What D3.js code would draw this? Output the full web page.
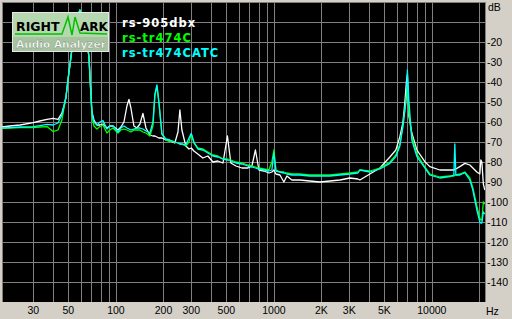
<!DOCTYPE html>
<html lang="en">
<head>
<meta charset="utf-8">
<title>RMAA spectrum</title>
<script src="https://d3js.org/d3.v7.min.js"></script>
<style>
  body { margin: 0; background: #d4d0c8; }
  svg { display: block; }
</style>
</head>
<body>
<script>
// frequencies (Hz) shared by the three curves
var freq = [19, 21.3, 24.7, 30, 33, 36.6, 40, 43, 45.5, 46.9, 48.3, 49.7, 51.9, 54.2, 56.7, 59.2, 61.8, 64.6, 67.5, 69,
  70.5, 72.6, 75.8, 79.2, 82.8, 87.7, 91.6, 95.7, 103, 107.5, 112.4, 117.4, 120.9, 124.4, 130, 135.8, 141.9, 148.2, 154.9, 164,
  171.5, 176.5, 181.8, 187, 195.5, 207, 219.7, 236, 247, 254, 261.6, 277, 290, 300, 311.6, 330, 355, 382, 411, 442,
  476, 508, 534, 575, 627, 685, 726, 764, 804, 865, 930, 971, 1000, 1030, 1092, 1157, 1209, 1300, 1460, 1689,
  1955, 2262, 2617, 3027, 3400, 3503, 4052, 4688, 5424, 5918, 6274, 6554, 6750, 6898, 7000, 7150, 7470, 8040, 9030, 9710,
  11230, 13000, 13780, 13980, 14190, 15040, 16180, 17400, 18180, 19270, 20130, 20420, 20730, 21180, 21650];

// rs-905dbx (white)
var dbWhite = [-62.5, -62, -61.5, -60.3, -59.5, -58.7, -58.2, -58.7, -55.5, -52, -47.5, -39, -27.5, -16, -8, -4, -8, -16, -27.5, -42,
  -55, -59, -61.5, -61.5, -61, -63, -62, -62, -64, -62.5, -60, -52, -48.7, -53, -62, -63, -61, -55.7, -63, -66.5,
  -67, -67, -67.5, -68, -68, -69, -69.5, -70.5, -65, -54, -64, -72, -73.5, -73, -74.5, -76, -78, -77, -80, -79.5,
  -80.5, -67, -80.5, -82, -83, -83, -82, -74, -84, -84.5, -85.5, -85, -84, -86, -86.5, -90, -87, -89, -89, -89.5,
  -90, -89.5, -89, -88, -88.5, -89, -86, -83, -77.5, -74, -67.3, -60.5, -50, -40, -36, -57, -65.5, -74, -79.8, -82.3,
  -84, -84, -84, -83.5, -83.5, -82.3, -80.7, -81.5, -83, -85, -86, -79, -80, -91, -94];

// rs-tr474C (green)
var dbGreen = [-63.2, -63, -62.8, -62.8, -62.5, -62.3, -64.8, -64, -59, -53, -47.5, -39, -27.5, -16, -8, -4, -8, -16, -27.5, -42,
  -57, -62, -63.5, -62.3, -61.5, -65.5, -64, -63, -65.5, -64, -63.5, -64, -64.5, -65, -64, -64, -64, -65, -65.5, -67,
  -62, -47, -42, -50, -66, -69, -69.5, -70, -70.5, -71, -71, -72, -70, -66, -70.5, -73, -73.5, -75, -76.5, -77,
  -78.5, -78.5, -79, -80, -80.5, -81.5, -82, -82.5, -83, -83.5, -84, -80, -74, -84, -85, -85, -85.5, -86, -86, -86.5,
  -86.5, -86.5, -86, -85.5, -85, -84, -84.5, -83, -80, -76.5, -71, -62, -54, -47, -42, -55, -67, -76, -82.5, -86,
  -87.5, -87, -87, -86.5, -86.5, -86, -85, -88, -93, -102, -108, -109, -109, -100, -101];

// rs-tr474CATC (cyan)
var dbCyan = [-63, -62.8, -62.5, -62.3, -61.8, -61.2, -61.5, -60.5, -56.5, -52, -47.5, -39, -27.5, -16, -8, -4, -8, -16, -27.5, -42,
  -55.5, -60, -61.5, -60, -59.3, -63.5, -62, -61.8, -65, -63, -62, -63, -63.5, -64, -63.5, -63, -63, -63.5, -64.5, -65.5,
  -60, -46, -41.5, -50, -66, -68.5, -69, -70, -70.5, -71, -71, -71.5, -68, -65.7, -70, -73.5, -74, -75.5, -77, -77.5,
  -78.5, -79, -79.5, -80.5, -81, -82, -82.5, -83, -83.5, -84, -84.5, -84, -75.5, -84.5, -85, -85.5, -86, -86.5, -86.5, -87,
  -87, -87, -86.5, -86, -85.5, -84, -85, -83.5, -80.7, -77.3, -72, -62.3, -54, -48, -34, -49, -69, -77.3, -83, -86.5,
  -88, -87.3, -86.5, -71, -86.5, -86.5, -85.3, -89, -94, -104, -110, -110.5, -110.5, -105, -106];

var seriesNames = ["rs-905dbx", "rs-tr474C", "rs-tr474CATC"];
var seriesColors = ["#ffffff", "#00ff00", "#00ffff"];

var gridFreqs = [30, 40, 50, 60, 70, 80, 90, 100, 200, 300, 400, 500, 600, 700, 800, 900,
  1000, 2000, 3000, 4000, 5000, 6000, 7000, 8000, 9000, 10000, 20000];
var xTickValues = [30, 50, 100, 200, 300, 500, 1000, 2000, 3000, 5000, 10000];
var xTickLabels = ["30", "50", "100", "200", "300", "500", "1000", "2K", "3K", "5K", "10000"];
var yTickValues = [-20, -30, -40, -50, -60, -70, -80, -90, -100, -110, -120, -130, -140];

var w = 512, h = 319;
var plotL = 2, plotR = 485, plotT = 2, plotB = 302;

var x = d3.scaleLog().domain([19, 21700]).range([plotL, plotR]);
var y = d3.scaleLinear().domain([0, -150]).range([plotT, plotB]);

var svg = d3.select("body").append("svg")
  .attr("width", w)
  .attr("height", h);

svg.append("rect")
  .attr("x", plotL).attr("y", plotT)
  .attr("width", plotR - plotL).attr("height", plotB - plotT)
  .attr("fill", "#000");

// grid
var grid = svg.append("g").attr("stroke", "#808080").attr("stroke-width", 1);
grid.selectAll("line.v").data(gridFreqs).enter().append("line")
  .attr("x1", function(d) { return Math.round(x(d)) + 0.5; })
  .attr("x2", function(d) { return Math.round(x(d)) + 0.5; })
  .attr("y1", plotT).attr("y2", plotB);
grid.selectAll("line.h").data(d3.range(0, -150, -10)).enter().append("line")
  .attr("x1", plotL).attr("x2", plotR)
  .attr("y1", function(d) { return Math.round(y(d)) + 0.5; })
  .attr("y2", function(d) { return Math.round(y(d)) + 0.5; });
// frame left / right
grid.append("line").attr("x1", plotL + 0.5).attr("x2", plotL + 0.5).attr("y1", plotT).attr("y2", plotB);
grid.append("line").attr("x1", plotR + 0.5).attr("x2", plotR + 0.5).attr("y1", plotT).attr("y2", plotB);

svg.append("clipPath").attr("id", "plotclip")
  .append("rect").attr("x", plotL).attr("y", plotT).attr("width", plotR - plotL).attr("height", plotB - plotT);

var line = d3.line()
  .x(function(d) { return x(d[0]); })
  .y(function(d) { return y(d[1]); });

var allSeries = [dbWhite, dbGreen, dbCyan];
svg.append("g").attr("clip-path", "url(#plotclip)")
  .selectAll("path").data(allSeries).enter().append("path")
  .attr("d", function(vals) { return line(freq.map(function(f, i) { return [f, vals[i]]; })); })
  .attr("fill", "none")
  .attr("stroke", function(d, i) { return seriesColors[i]; })
  .attr("stroke-width", 1.3)
  .attr("stroke-linejoin", "round");

// axis labels
var axisFont = "'Liberation Sans', Arial, sans-serif";
svg.selectAll("text.ylab").data(yTickValues).enter().append("text")
  .attr("x", 487)
  .attr("y", function(d) { return y(d) + 4; })
  .attr("font-family", axisFont).attr("font-size", "10.5px").attr("fill", "#000")
  .text(function(d) { return d; });
svg.append("text").attr("x", 488).attr("y", 11)
  .attr("font-family", axisFont).attr("font-size", "10.5px").attr("fill", "#000").text("dB");

svg.selectAll("text.xlab").data(xTickValues).enter().append("text")
  .attr("x", function(d) { return x(d); })
  .attr("y", 313.5)
  .attr("text-anchor", "middle")
  .attr("font-family", axisFont).attr("font-size", "10.5px").attr("fill", "#000")
  .text(function(d, i) { return xTickLabels[i]; });
svg.append("text").attr("x", 486).attr("y", 314.5)
  .attr("font-family", axisFont).attr("font-size", "10.5px").attr("fill", "#000").text("Hz");

// logo
var logo = svg.append("g").attr("transform", "translate(12,12)");
logo.append("rect").attr("x", 0.5).attr("y", 0.5).attr("width", 96).attr("height", 39)
  .attr("fill", "#b6d8b0").attr("stroke", "#e8e8e8");
logo.append("rect").attr("x", 1).attr("y", 25).attr("width", 95).attr("height", 14)
  .attr("fill", "#a6c4a0");
logo.append("path")
  .attr("d", d3.line()([[3, 22], [50, 22], [56, 5], [60, 23], [63, 5], [68, 21], [95, 22]]))
  .attr("fill", "none").attr("stroke", "#00c000").attr("stroke-width", 1.5);
logo.append("text").attr("x", 4).attr("y", 18.5)
  .attr("font-family", "'DejaVu Sans', sans-serif").attr("font-weight", "bold").attr("font-size", "12.5px")
  .attr("fill", "#000").text("RIGHT");
logo.append("text").attr("x", 68).attr("y", 18.5)
  .attr("font-family", "'DejaVu Sans', sans-serif").attr("font-weight", "bold").attr("font-size", "12px")
  .attr("fill", "#000").text("ARK");
logo.append("text").attr("x", 4).attr("y", 35.5)
  .attr("font-family", "'DejaVu Sans', sans-serif").attr("font-weight", "bold").attr("font-size", "10.6px")
  .attr("fill", "#fff").attr("stroke", "#7a8f76").attr("stroke-width", 0.4)
  .text("Audio Analyzer");

// legend
svg.selectAll("text.legend").data(seriesNames).enter().append("text")
  .attr("x", 122)
  .attr("y", function(d, i) { return 27 + i * 15.2; })
  .attr("font-family", "'DejaVu Sans', sans-serif").attr("font-weight", "bold")
  .attr("font-size", "11.5px").attr("letter-spacing", "1px")
  .attr("fill", function(d, i) { return seriesColors[i]; })
  .text(function(d) { return d; });
</script>
</body>
</html>
